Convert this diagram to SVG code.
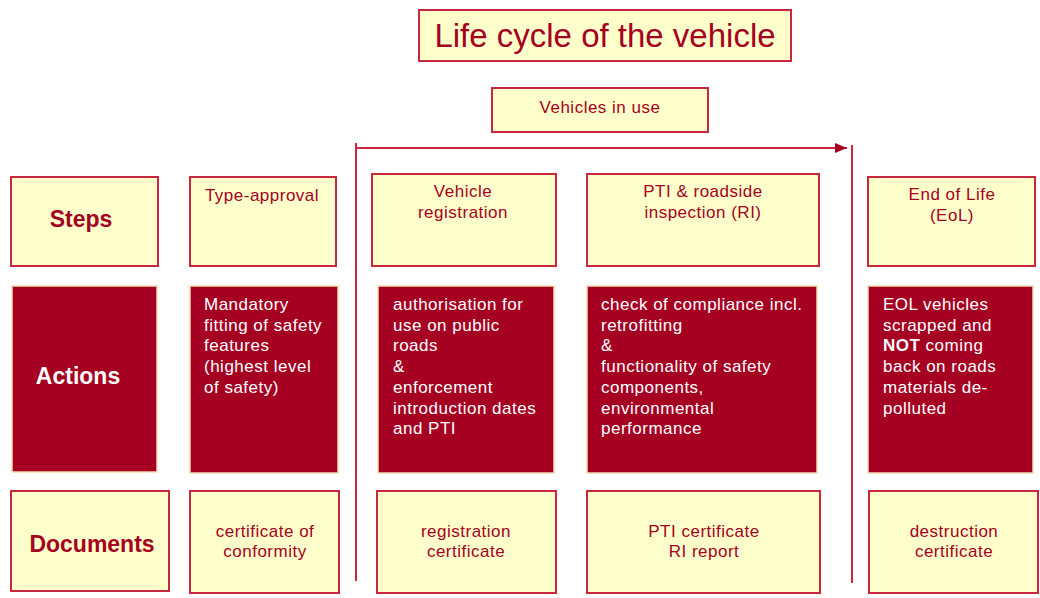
<svg xmlns="http://www.w3.org/2000/svg" width="1040" height="598" viewBox="0 0 1040 598">
<defs>
<style>
.lt{fill:#FFFFCC;stroke:#C8283F;stroke-width:2}
.dk{fill:#A50021;stroke:#F2DDB0;stroke-width:1.5}
.t{font-family:"Liberation Sans",Arial,sans-serif;font-size:17px;letter-spacing:0.5px;fill:#A50021}
.w{font-family:"Liberation Sans",Arial,sans-serif;font-size:17px;letter-spacing:0.5px;fill:#FFFFFF}
.h{font-family:"Liberation Sans",Arial,sans-serif;font-size:23px;font-weight:bold;fill:#A50021}
.c{text-anchor:middle}
.ln{stroke:#C8283F;stroke-width:2;fill:none}
</style>
<marker id="ah" viewBox="0 0 12 10" refX="12" refY="5" markerWidth="12" markerHeight="10" orient="auto" markerUnits="userSpaceOnUse">
<path d="M0,0 L12,5 L0,10 Z" fill="#A50021"/>
</marker>
</defs>
<rect width="1040" height="598" fill="#FFFFFF"/>

<g id="title">
<rect class="lt" x="419" y="10" width="372" height="51"/>
<text x="605" y="47" class="c" font-family="Liberation Sans,Arial,sans-serif" font-size="33" fill="#A50021">Life cycle of the vehicle</text>
</g>

<g id="vehicles-in-use">
<rect class="lt" x="492" y="88" width="216" height="44"/>
<text x="600" y="113" class="t c">Vehicles in use</text>
</g>

<g id="connectors">
<line class="ln" x1="356" y1="143" x2="356" y2="581"/>
<line class="ln" x1="852" y1="145" x2="852" y2="583"/>
<line class="ln" x1="356" y1="148" x2="847" y2="148" marker-end="url(#ah)"/>
</g>

<g id="steps-label">
<rect class="lt" x="11" y="177" width="147" height="89"/>
<text x="81" y="227" class="h c">Steps</text>
</g>
<g id="step-type-approval">
<rect class="lt" x="190" y="177" width="146" height="89"/>
<text x="262" y="201" class="t c">Type-approval</text>
</g>
<g id="step-registration">
<rect class="lt" x="372" y="174" width="184" height="92"/>
<text x="463" y="197" class="t c">Vehicle</text>
<text x="463" y="218" class="t c">registration</text>
</g>
<g id="step-pti">
<rect class="lt" x="587" y="174" width="232" height="92"/>
<text x="703" y="197" class="t c">PTI &amp; roadside</text>
<text x="703" y="218" class="t c">inspection (RI)</text>
</g>
<g id="step-eol">
<rect class="lt" x="868" y="177" width="167" height="89"/>
<text x="952" y="200" class="t c">End of Life</text>
<text x="952" y="221" class="t c">(EoL)</text>
</g>

<g id="actions-label">
<rect class="dk" x="12" y="286" width="145" height="186"/>
<text x="78" y="384" font-family="Liberation Sans,Arial,sans-serif" font-size="23" font-weight="bold" fill="#FFFFFF" text-anchor="middle">Actions</text>
</g>
<g id="action-type-approval">
<rect class="dk" x="190" y="286" width="148" height="187"/>
<text class="w"><tspan x="204" y="310">Mandatory</tspan><tspan x="204" y="331">fitting of safety</tspan><tspan x="204" y="351">features</tspan><tspan x="204" y="372">(highest level</tspan><tspan x="204" y="393">of safety)</tspan></text>
</g>
<g id="action-registration">
<rect class="dk" x="378" y="286" width="176" height="187"/>
<text class="w"><tspan x="393" y="310">authorisation for</tspan><tspan x="393" y="331">use on public</tspan><tspan x="393" y="351">roads</tspan><tspan x="393" y="372">&amp;</tspan><tspan x="393" y="393">enforcement</tspan><tspan x="393" y="414">introduction dates</tspan><tspan x="393" y="434">and PTI</tspan></text>
</g>
<g id="action-pti">
<rect class="dk" x="587" y="286" width="230" height="187"/>
<text class="w"><tspan x="601" y="310">check of compliance incl.</tspan><tspan x="601" y="331">retrofitting</tspan><tspan x="601" y="351">&amp;</tspan><tspan x="601" y="372">functionality of safety</tspan><tspan x="601" y="393">components,</tspan><tspan x="601" y="414">environmental</tspan><tspan x="601" y="434">performance</tspan></text>
</g>
<g id="action-eol">
<rect class="dk" x="868" y="286" width="165" height="187"/>
<text class="w"><tspan x="883" y="310">EOL vehicles</tspan><tspan x="883" y="331">scrapped and</tspan><tspan x="883" y="351" font-weight="bold">NOT</tspan><tspan> coming</tspan><tspan x="883" y="372">back on roads</tspan><tspan x="883" y="393">materials de-</tspan><tspan x="883" y="414">polluted</tspan></text>
</g>

<g id="documents-label">
<rect class="lt" x="11" y="491" width="158" height="100"/>
<text x="92" y="552" class="h c">Documents</text>
</g>
<g id="doc-type-approval">
<rect class="lt" x="190" y="491" width="149" height="102"/>
<text x="265" y="537" class="t c">certificate of</text>
<text x="265" y="557" class="t c">conformity</text>
</g>
<g id="doc-registration">
<rect class="lt" x="377" y="491" width="179" height="102"/>
<text x="466" y="537" class="t c">registration</text>
<text x="466" y="557" class="t c">certificate</text>
</g>
<g id="doc-pti">
<rect class="lt" x="587" y="491" width="233" height="102"/>
<text x="704" y="537" class="t c">PTI certificate</text>
<text x="704" y="557" class="t c">RI report</text>
</g>
<g id="doc-eol">
<rect class="lt" x="869" y="491" width="169" height="102"/>
<text x="954" y="537" class="t c">destruction</text>
<text x="954" y="557" class="t c">certificate</text>
</g>
</svg>
